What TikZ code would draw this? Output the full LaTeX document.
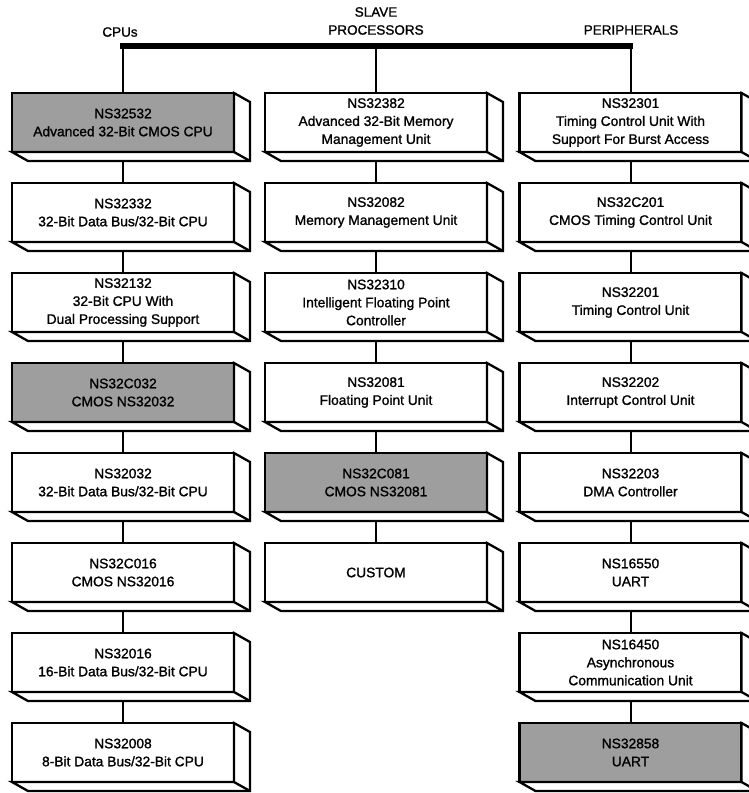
\documentclass[tikz,border=0pt]{standalone}
\usepackage{fontspec}
\setmainfont{Liberation Sans}
\newfontfamily\chipfont{Liberation Sans}[FakeBold=1.2]
\usetikzlibrary{positioning, backgrounds, calc}

\tikzset{
  chip/.style={draw, rectangle, line width=2.5pt, fill=white, minimum width=222pt, minimum height=59pt, inner sep=2pt, outer sep=0pt, align=center, font=\chipfont\fontsize{13.8}{18}\selectfont},
  greychip/.style={chip, fill=black!38},
  link/.style={line width=2pt},
  bus/.style={line width=6pt},
  heading/.style={align=center, font=\chipfont\fontsize{13.5}{18}\selectfont}
}

% side and bottom faces of a chip
\newcommand{\slab}[1]{%
  \draw[line width=2.3pt, fill=white, line join=miter]
    (#1.south west) -- ($(#1.south west)+(16,9)$) -- ($(#1.south east)+(16,9)$)
    -- ($(#1.north east)+(16,9)$) -- (#1.north east) -- (#1.south east) -- cycle;
  \draw[line width=2.3pt] (#1.south east) -- ($(#1.south east)+(16,9)$);
}

\begin{document}
\begin{tikzpicture}[x=1pt, y=-1pt, node distance=31pt]
    \useasboundingbox (0,0) rectangle (749,793);

    \node[heading] (cpus) at (120,32) {CPUs};
    \node[heading] (slave) at (376,21) {SLAVE\\PROCESSORS};
    \node[heading] (periph) at (631,30) {PERIPHERALS};

    % CPUs
    \node[greychip] (ns32532) at (123,122.5) {NS32532\\Advanced 32-Bit CMOS CPU};
    \node[chip, below=of ns32532] (ns32332) {NS32332\\32-Bit Data Bus/32-Bit CPU};
    \node[chip, below=of ns32332] (ns32132) {NS32132\\32-Bit CPU With\\Dual Processing Support};
    \node[greychip, below=of ns32132] (ns32c032) {NS32C032\\CMOS NS32032};
    \node[chip, below=of ns32c032] (ns32032) {NS32032\\32-Bit Data Bus/32-Bit CPU};
    \node[chip, below=of ns32032] (ns32c016) {NS32C016\\CMOS NS32016};
    \node[chip, below=of ns32c016] (ns32016) {NS32016\\16-Bit Data Bus/32-Bit CPU};
    \node[chip, below=of ns32016] (ns32008) {NS32008\\8-Bit Data Bus/32-Bit CPU};

    % slave processors
    \node[chip] (ns32382) at (376,122.5) {NS32382\\Advanced 32-Bit Memory\\Management Unit};
    \node[chip, below=of ns32382] (ns32082) {NS32082\\Memory Management Unit};
    \node[chip, below=of ns32082] (ns32310) {NS32310\\Intelligent Floating Point\\Controller};
    \node[chip, below=of ns32310] (ns32081) {NS32081\\Floating Point Unit};
    \node[greychip, below=of ns32081] (ns32c081) {NS32C081\\CMOS NS32081};
    \node[chip, below=of ns32c081] (custom) {CUSTOM};

    % peripherals
    \node[chip] (ns32301) at (630.5,122.5) {NS32301\\Timing Control Unit With\\Support For Burst Access};
    \node[chip, below=of ns32301] (ns32c201) {NS32C201\\CMOS Timing Control Unit};
    \node[chip, below=of ns32c201] (ns32201) {NS32201\\Timing Control Unit};
    \node[chip, below=of ns32201] (ns32202) {NS32202\\Interrupt Control Unit};
    \node[chip, below=of ns32202] (ns32203) {NS32203\\DMA Controller};
    \node[chip, below=of ns32203] (ns16550) {NS16550\\UART};
    \node[chip, below=of ns16550] (ns16450) {NS16450\\Asynchronous\\Communication Unit};
    \node[greychip, below=of ns16450] (ns32858) {NS32858\\UART};

    \slab{ns32532} \slab{ns32332} \slab{ns32132} \slab{ns32c032}
    \slab{ns32032} \slab{ns32c016} \slab{ns32016} \slab{ns32008}
    \slab{ns32382} \slab{ns32082} \slab{ns32310} \slab{ns32081}
    \slab{ns32c081} \slab{custom}
    \slab{ns32301} \slab{ns32c201} \slab{ns32201} \slab{ns32202}
    \slab{ns32203} \slab{ns16550} \slab{ns16450} \slab{ns32858}

    \coordinate (busL) at (120,46);
    \coordinate (busR) at (633,46);

    \begin{scope}[on background layer]
        \draw[bus] (busL) -- (busR);
        \draw[link] (ns32532.north) -- (ns32532.north |- busL);
        \draw[link] (ns32382.north) -- (ns32382.north |- busL);
        \draw[link] (ns32301.north) -- (ns32301.north |- busL);

        \draw[link] (ns32532) -- (ns32332);
        \draw[link] (ns32332) -- (ns32132);
        \draw[link] (ns32132) -- (ns32c032);
        \draw[link] (ns32c032) -- (ns32032);
        \draw[link] (ns32032) -- (ns32c016);
        \draw[link] (ns32c016) -- (ns32016);
        \draw[link] (ns32016) -- (ns32008);

        \draw[link] (ns32382) -- (ns32082);
        \draw[link] (ns32082) -- (ns32310);
        \draw[link] (ns32310) -- (ns32081);
        \draw[link] (ns32081) -- (ns32c081);
        \draw[link] (ns32c081) -- (custom);

        \draw[link] (ns32301) -- (ns32c201);
        \draw[link] (ns32c201) -- (ns32201);
        \draw[link] (ns32201) -- (ns32202);
        \draw[link] (ns32202) -- (ns32203);
        \draw[link] (ns32203) -- (ns16550);
        \draw[link] (ns16550) -- (ns16450);
        \draw[link] (ns16450) -- (ns32858);
    \end{scope}
\end{tikzpicture}
\end{document}
